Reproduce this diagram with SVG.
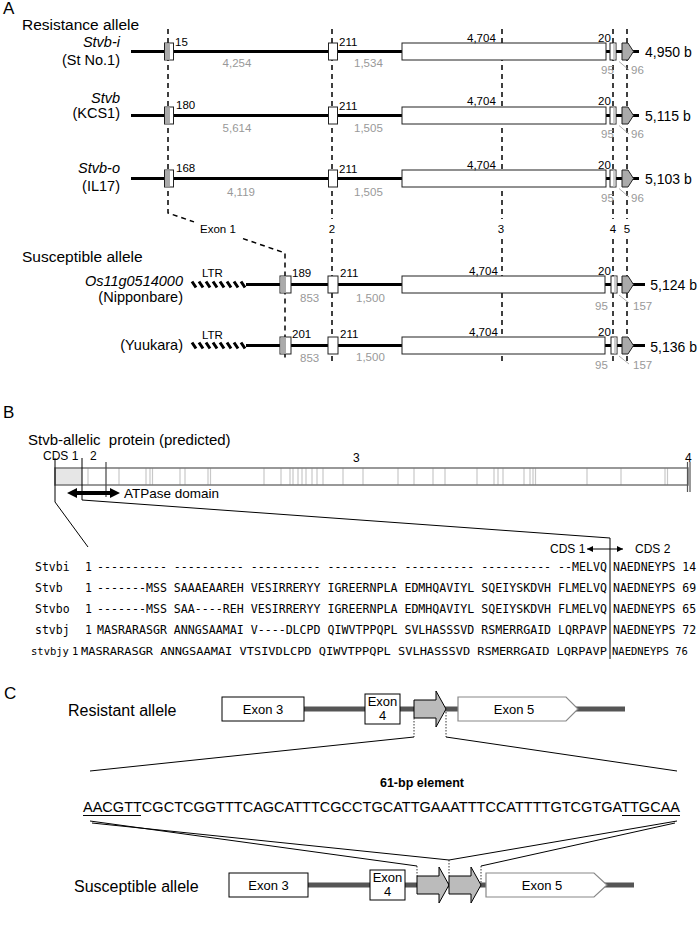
<svg xmlns="http://www.w3.org/2000/svg" width="700" height="925" viewBox="0 0 700 925">
<defs>
<style>
text{font-family:"Liberation Sans",Arial,Helvetica,sans-serif;fill:#000}
.pl{font-size:17px}
.hd{font-size:15.5px}
.lab{font-size:14.5px}
.it{font-style:italic}
.n{font-size:11.5px}
.g{font-size:11.5px;fill:#999}
.len{font-size:14px}
.end{text-anchor:end}
.mid{text-anchor:middle}
.bb{stroke:#000;stroke-width:3;fill:none}
.dash{stroke:#000;stroke-width:1.5;stroke-dasharray:5,4;fill:none}
.box{fill:#fff;stroke:#222;stroke-width:1}
.ex1{fill:#aaa}
.ex4{fill:#ccc}
.ex5{fill:#aaa;stroke:#222;stroke-width:1}
.tick{stroke:#999;stroke-width:0.8}
.hatch{stroke:#000;stroke-width:3;fill:none}
.aln{font-family:"DejaVu Sans Mono","Liberation Mono",monospace;font-size:11.5px;white-space:pre}
.aln5{font-family:"DejaVu Sans Mono","Liberation Mono",monospace;font-size:10.5px;white-space:pre}
.bar{fill:none;stroke:#777;stroke-width:1.5}
.bl{stroke:#c8c8c8;stroke-width:1.2}
.thin{stroke:#000;stroke-width:1;fill:none}
.gl{stroke:#555;stroke-width:5}
.cx{fill:#fff;stroke:#000;stroke-width:1}
.cx5{fill:#fff;stroke:#888;stroke-width:1.2}
.el{fill:#bbb;stroke:#000;stroke-width:1}
.dot{stroke:#000;stroke-width:0.8;stroke-dasharray:1.5,1.5;fill:none}
.ct{font-size:13px;text-anchor:middle}
</style>
<marker id="tri" viewBox="0 0 10 10" refX="10" refY="5" markerWidth="6" markerHeight="6" orient="auto-start-reverse"><path d="M0,0L10,5L0,10Z" fill="#000"/></marker>
</defs>
<rect width="700" height="925" fill="#fff"/>

<!-- ===== Panel A ===== -->
<text class="pl" x="3" y="14">A</text>
<text class="hd" x="22" y="30">Resistance allele</text>
<text class="hd" x="22" y="262">Susceptible allele</text>

<g id="connectors-A">
<path class="dash" d="M168,29V213L194,221.9M243,238.6L285,253V358"/>
<path class="dash" d="M332,29V219M332,239V362"/>
<path class="dash" d="M502,29V219M502,239V362"/>
<path class="dash" d="M613,29V219M613,239V364"/>
<path class="dash" d="M627,29V219M627,239V364"/>
<text class="n" x="200" y="233">Exon 1</text>
<text class="n mid" x="332" y="233">2</text>
<text class="n mid" x="501" y="233">3</text>
<text class="n mid" x="613" y="233">4</text>
<text class="n mid" x="627" y="233">5</text>
</g>

<g id="stvb-i">
<line class="bb" x1="131" y1="51.5" x2="402" y2="51.5"/>
<line class="bb" x1="606" y1="51.5" x2="639" y2="51.5"/>
<rect class="box" x="164.5" y="43" width="9" height="17"/><rect class="ex1" x="165" y="43.5" width="5" height="16"/>
<rect class="box" x="328.5" y="43" width="9" height="17"/>
<rect class="box" x="402" y="43" width="204" height="17"/>
<rect class="box" x="610" y="43" width="6" height="17"/><rect class="ex4" x="613" y="43.5" width="2.5" height="16"/>
<path class="ex5" d="M622,43H628L633.5,51.5L628,60H622Z"/>
<line class="tick" x1="619" y1="61.5" x2="629" y2="70"/>
<text class="lab it end" x="120" y="47">Stvb-i</text>
<text class="lab end" x="120" y="65">(St No.1)</text>
<text class="n" x="175" y="46">15</text>
<text class="n" x="339" y="46">211</text>
<text class="n" x="467" y="42">4,704</text>
<text class="n" x="598" y="42">20</text>
<text class="g mid" x="237" y="67">4,254</text>
<text class="g" x="354" y="67">1,534</text>
<text class="g" x="601" y="74">95</text>
<text class="g" x="631" y="74">96</text>
<text class="len" x="645" y="57">4,950 b</text>
</g>

<g id="stvb">
<line class="bb" x1="131" y1="115.5" x2="402" y2="115.5"/>
<line class="bb" x1="606" y1="115.5" x2="639" y2="115.5"/>
<rect class="box" x="164.5" y="107" width="9" height="17"/><rect class="ex1" x="165" y="107.5" width="5" height="16"/>
<rect class="box" x="328.5" y="107" width="9" height="17"/>
<rect class="box" x="402" y="107" width="204" height="17"/>
<rect class="box" x="610" y="107" width="6" height="17"/><rect class="ex4" x="613" y="107.5" width="2.5" height="16"/>
<path class="ex5" d="M622,107H628L633.5,115.5L628,124H622Z"/>
<line class="tick" x1="619" y1="125.5" x2="629" y2="134"/>
<text class="lab it end" x="120" y="103">Stvb</text>
<text class="lab end" x="120" y="118">(KCS1)</text>
<text class="n" x="176" y="109">180</text>
<text class="n" x="339" y="110">211</text>
<text class="n" x="467" y="105">4,704</text>
<text class="n" x="598" y="105">20</text>
<text class="g mid" x="237" y="132">5,614</text>
<text class="g" x="354" y="132">1,505</text>
<text class="g" x="601" y="138">95</text>
<text class="g" x="631" y="138">96</text>
<text class="len" x="645" y="121">5,115 b</text>
</g>

<g id="stvb-o">
<line class="bb" x1="131" y1="178.5" x2="402" y2="178.5"/>
<line class="bb" x1="606" y1="178.5" x2="639" y2="178.5"/>
<rect class="box" x="164.5" y="170" width="9" height="17"/><rect class="ex1" x="165" y="170.5" width="5" height="16"/>
<rect class="box" x="328.5" y="170" width="9" height="17"/>
<rect class="box" x="402" y="170" width="204" height="17"/>
<rect class="box" x="610" y="170" width="6" height="17"/><rect class="ex4" x="613" y="170.5" width="2.5" height="16"/>
<path class="ex5" d="M622,170H628L633.5,178.5L628,187H622Z"/>
<line class="tick" x1="619" y1="188.5" x2="629" y2="197"/>
<text class="lab it end" x="120" y="173">Stvb-o</text>
<text class="lab end" x="120" y="191">(IL17)</text>
<text class="n" x="176" y="172">168</text>
<text class="n" x="339" y="173">211</text>
<text class="n" x="467" y="169">4,704</text>
<text class="n" x="598" y="169">20</text>
<text class="g mid" x="241" y="196">4,119</text>
<text class="g" x="354" y="196">1,505</text>
<text class="g" x="601" y="202">95</text>
<text class="g" x="631" y="202">96</text>
<text class="len" x="645" y="184">5,103 b</text>
</g>

<g id="os11g0514000">
<path class="hatch" d="M192,281.5l4,6M199,281.5l4,6M206,281.5l4,6M213,281.5l4,6M220,281.5l4,6M227,281.5l4,6M234,281.5l4,6M241,281.5l4,6"/>
<line class="bb" x1="246" y1="284.5" x2="402" y2="284.5"/>
<line class="bb" x1="605" y1="284.5" x2="645" y2="284.5"/>
<rect class="box" x="280" y="276" width="11" height="17"/><rect class="ex1" x="280.5" y="276.5" width="5.5" height="16"/>
<rect class="box" x="328" y="276" width="10" height="17"/>
<rect class="box" x="402" y="276" width="203" height="17"/>
<rect class="box" x="611" y="276" width="6" height="17"/><rect class="ex4" x="614" y="276.5" width="2.5" height="16"/>
<path class="ex5" d="M622,276H628L633.5,284.5L628,293H622Z"/>
<line class="tick" x1="619" y1="295" x2="629" y2="303"/>
<text class="lab it end" x="183" y="286">Os11g0514000</text>
<text class="lab end" x="183" y="302">(Nipponbare)</text>
<text class="n" x="202" y="277">LTR</text>
<text class="n" x="292" y="277">189</text>
<text class="n" x="340" y="277">211</text>
<text class="n" x="469" y="275">4,704</text>
<text class="n" x="598" y="275">20</text>
<text class="g" x="300" y="302">853</text>
<text class="g" x="356" y="302">1,500</text>
<text class="g" x="595" y="310">95</text>
<text class="g" x="633" y="310">157</text>
<text class="len end" x="697" y="290">5,124 b</text>
</g>

<g id="yuukara">
<path class="hatch" d="M192,342.5l4,6M199,342.5l4,6M206,342.5l4,6M213,342.5l4,6M220,342.5l4,6M227,342.5l4,6M234,342.5l4,6M241,342.5l4,6"/>
<line class="bb" x1="246" y1="345.5" x2="402" y2="345.5"/>
<line class="bb" x1="605" y1="345.5" x2="645" y2="345.5"/>
<rect class="box" x="280" y="337" width="11" height="17"/><rect class="ex1" x="280.5" y="337.5" width="5.5" height="16"/>
<rect class="box" x="328" y="337" width="10" height="17"/>
<rect class="box" x="402" y="337" width="203" height="17"/>
<rect class="box" x="611" y="337" width="6" height="17"/><rect class="ex4" x="614" y="337.5" width="2.5" height="16"/>
<path class="ex5" d="M622,337H628L633.5,345.5L628,354H622Z"/>
<line class="tick" x1="619" y1="356" x2="629" y2="364"/>
<text class="lab end" x="183" y="350">(Yuukara)</text>
<text class="n" x="202" y="339">LTR</text>
<text class="n" x="292" y="338">201</text>
<text class="n" x="340" y="338">211</text>
<text class="n" x="469" y="336">4,704</text>
<text class="n" x="598" y="336">20</text>
<text class="g" x="300" y="362">853</text>
<text class="g" x="356" y="361">1,500</text>
<text class="g" x="595" y="369">95</text>
<text class="g" x="633" y="369">157</text>
<text class="len end" x="697" y="352">5,136 b</text>
</g>

<!-- ===== Panel B ===== -->
<text class="pl" x="3" y="418">B</text>
<text class="hd" x="28" y="445" style="font-size:15px;white-space:pre">Stvb-allelic  protein (predicted)</text>

<g id="protein-bar">
<rect x="55" y="468" width="27" height="17" fill="#e6e6e6"/>
<path class="bl" d="M88,468V485M119,468V485M146,468V485M150,468V485M152.5,468V485M180,468V485M185,468V485M208,468V485M210.5,468V485M264,468V485M281,468V485M290,468V485M293,468V485M298,468V485M302,468V485M306,468V485M312,468V485M317,468V485M323,468V485M343,468V485M363,468V485M398,468V485M414,468V485M433,468V485M445,468V485M477,468V485M494,468V485M498,468V485M503,468V485M524,468V485M530,468V485M533,468V485M535.5,468V485M587,468V485M621,468V485M665,468V485M667.5,468V485"/>
<rect class="bar" x="55" y="468" width="633" height="17"/>
<line x1="106" y1="462" x2="106" y2="497" stroke="#444" stroke-width="1.2"/>
<path d="M687.5,462V492M690,462V492" stroke="#555" stroke-width="1.2"/>
<text class="n" x="43" y="460" style="font-size:12px">CDS 1</text>
<text class="n" x="90" y="460" style="font-size:12px">2</text>
<text class="n" x="353" y="462" style="font-size:12px">3</text>
<text class="n" x="685" y="462" style="font-size:12px">4</text>
</g>

<g id="atpase-domain">
<path d="M67,493L77,488V491H110V488L120,493L110,498V495H77V498Z" fill="#000"/>
<text x="124" y="498" style="font-size:13.5px">ATPase domain</text>
</g>

<g id="connectors-B">
<path class="thin" d="M55,458V502L88,547"/>
<path class="thin" d="M82,458V500L610,538V659"/>
</g>

<g id="cds-boundary">
<text x="550" y="553" style="font-size:12px">CDS 1</text>
<line class="thin" x1="587" y1="549" x2="623" y2="549" marker-start="url(#tri)" marker-end="url(#tri)"/>
<text x="635" y="553" style="font-size:12px">CDS 2</text>
</g>

<g id="alignment">
<text class="aln" x="35" y="571">Stvbi</text><text class="aln" x="85" y="571">1</text>
<text class="aln" x="97" y="571" textLength="510" lengthAdjust="spacingAndGlyphs">---------- ---------- ---------- ---------- ---------- ---------- --MELVQ</text>
<text class="aln" x="613" y="571">NAEDNEYPS 14</text>
<text class="aln" x="35" y="592">Stvb</text><text class="aln" x="85" y="592">1</text>
<text class="aln" x="97" y="592" textLength="510" lengthAdjust="spacingAndGlyphs">-------MSS SAAAEAAREH VESIRRERYY IGREERNPLA EDMHQAVIYL SQEIYSKDVH FLMELVQ</text>
<text class="aln" x="613" y="592">NAEDNEYPS 69</text>
<text class="aln" x="35" y="613">Stvbo</text><text class="aln" x="85" y="613">1</text>
<text class="aln" x="97" y="613" textLength="510" lengthAdjust="spacingAndGlyphs">-------MSS SAA----REH VESIRRERYY IGREERNPLA EDMHQAVIYL SQEIYSKDVH FLMELVQ</text>
<text class="aln" x="613" y="613">NAEDNEYPS 65</text>
<text class="aln" x="35" y="634">stvbj</text><text class="aln" x="85" y="634">1</text>
<text class="aln" x="97" y="634" textLength="510" lengthAdjust="spacingAndGlyphs">MASRARASGR ANNGSAAMAI V----DLCPD QIWVTPPQPL SVLHASSSVD RSMERRGAID LQRPAVP</text>
<text class="aln" x="613" y="634">NAEDNEYPS 72</text>
<text class="aln5" x="31" y="655">stvbjy</text><text class="aln5" x="72" y="655">1</text>
<text class="aln5" x="81" y="655" textLength="526" lengthAdjust="spacingAndGlyphs">MASRARASGR ANNGSAAMAI VTSIVDLCPD QIWVTPPQPL SVLHASSSVD RSMERRGAID LQRPAVP</text>
<text class="aln5" x="612" y="655">NAEDNEYPS 76</text>
</g>

<!-- ===== Panel C ===== -->
<text class="pl" x="4" y="699">C</text>

<g id="connectors-C">
<path class="dot" d="M414,718V737M446,709V737"/>
<path class="thin" d="M414,737L90,771M446,737L677,771"/>
<path class="thin" d="M90,821L417,866M92,823L449,860M677,821L449,860M675,823L481,866"/>
<path class="dot" d="M417,866V876M449,860V876M481,866V885"/>
</g>

<g id="resistant-allele">
<text x="68" y="716" style="font-size:16px">Resistant allele</text>
<line class="gl" x1="304" y1="709" x2="625" y2="709"/>
<rect class="cx" x="222" y="697" width="82" height="24"/>
<text class="ct" x="263" y="713.5">Exon 3</text>
<rect class="cx" x="365" y="694" width="35" height="30"/>
<text class="ct" x="382.5" y="706">Exon</text>
<text class="ct" x="382.5" y="720">4</text>
<path class="el" d="M414,700H436V691L446,709L436,727V718H414Z"/>
<path class="cx5" d="M458,697H566L578,709L566,721H458Z"/>
<text class="ct" x="514" y="713.5">Exon 5</text>
</g>

<g id="element-61bp">
<text x="422" y="787" text-anchor="middle" style="font-size:12.5px;font-weight:bold">61-bp element</text>
<text x="83" y="812" textLength="597" lengthAdjust="spacingAndGlyphs" style="font-size:14.6px">AACGTTCGCTCGGTTTCAGCATTTCGCCTGCATTGAAATTTCCATTTTGTCGTGATTGCAA</text>
<path class="thin" d="M83,815.5H141M622,815.5H680"/>
</g>

<g id="susceptible-allele">
<text x="74" y="892" style="font-size:16px">Susceptible allele</text>
<line class="gl" x1="308" y1="885" x2="634" y2="885"/>
<rect class="cx" x="229" y="873" width="79" height="24"/>
<text class="ct" x="268.5" y="889.5">Exon 3</text>
<rect class="cx" x="370" y="870" width="35" height="30"/>
<text class="ct" x="387.5" y="882">Exon</text>
<text class="ct" x="387.5" y="896">4</text>
<path class="el" d="M417,876H439V867L449,885L439,903V894H417Z"/>
<path class="el" d="M449,876H471V867L481,885L471,903V894H449Z"/>
<path class="cx5" d="M486,873H594L607,885L594,897H486Z"/>
<text class="ct" x="542" y="889.5">Exon 5</text>
</g>
</svg>
